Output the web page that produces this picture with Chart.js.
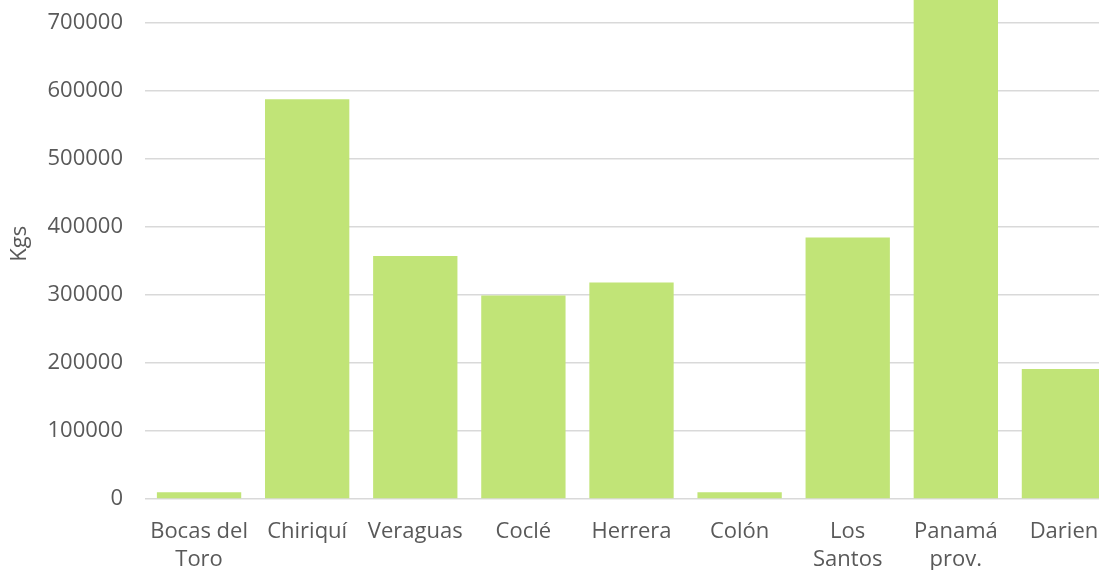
<!DOCTYPE html>
<html>
<head>
<meta charset="utf-8">
<script src="https://cdn.jsdelivr.net/npm/chart.js@4/dist/chart.umd.min.js"></script>
<style>
  html, body { margin: 0; padding: 0; background: #fff; overflow: hidden; }
  #wrap { position: relative; width: 1099px; height: 570px; overflow: hidden; }
  #js--kgs_chart { position: absolute; left: 0; top: -81px; }
</style>
</head>
<body>
<div id="wrap"><canvas id="js--kgs_chart" width="1118" height="651"></canvas></div>
<script>
var provincias = [['Bocas del', 'Toro'], 'Chiriquí', 'Veraguas', 'Coclé', 'Herrera', 'Colón', ['Los', 'Santos'], ['Panamá', 'prov.'], 'Darien'];
var kgs = [10000, 587000, 357000, 299000, 318000, 10000, 384000, 780000, 191000];
var yTicks = [0, 100000, 200000, 300000, 400000, 500000, 600000, 700000, 800000];

var cntxt = document.getElementById('js--kgs_chart');

var myChart = new Chart(cntxt, {
    type: 'bar',
    data: {
        labels: provincias,
        datasets: [
            {
                label: 'Kgs',
                data: kgs,
                backgroundColor: '#c1e477',
                borderWidth: 0,
                barPercentage: 0.78,
                categoryPercentage: 1
            }
        ]
    },
    options: {
        responsive: false,
        animation: false,
        layout: { padding: 0 },
        plugins: {
            legend: { display: false },
            tooltip: { enabled: false }
        },
        scales: {
            x: {
                grid: { display: false },
                border: { display: false },
                ticks: {
                    color: '#595959',
                    font: { family: 'Open Sans', size: 22, lineHeight: 1.25 },
                    padding: 11,
                    maxRotation: 0,
                    autoSkip: false
                },
                afterFit: function (scale) { scale.height = 71; }
            },
            y: {
                min: yTicks[0],
                max: yTicks[yTicks.length - 1],
                grid: { color: '#d9d9d9', lineWidth: 1.5, drawTicks: false },
                border: { display: false },
                ticks: {
                    stepSize: 100000,
                    color: '#595959',
                    font: { family: 'Open Sans', size: 22 },
                    padding: 22,
                    callback: function (value) { return String(value); }
                },
                title: {
                    display: true,
                    text: 'Kgs      ',
                    color: '#595959',
                    font: { family: 'Open Sans', size: 22 },
                    padding: { top: 7, bottom: 0 }
                },
                afterFit: function (scale) { scale.width = 145; }
            }
        }
    }
});
</script>
</body>
</html>
